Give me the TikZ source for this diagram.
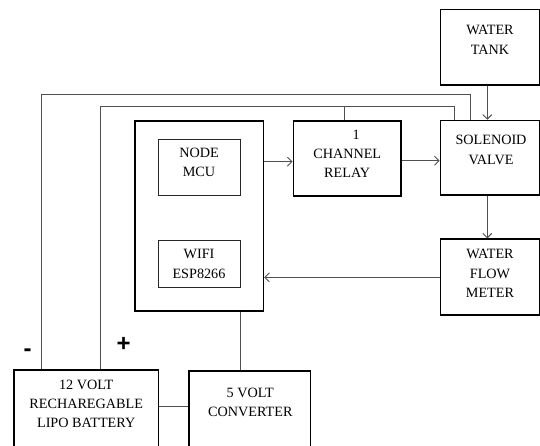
\documentclass[tikz,border=0pt]{standalone}
\usepackage{fontspec}
\setmainfont{Liberation Serif}
\newfontfamily\signfont{Liberation Sans}
\usetikzlibrary{arrows.meta}
\definecolor{wirec}{HTML}{505050}
\tikzset{
  bigbox/.style={draw=black, line width=1.7pt, inner sep=0pt, minimum width=#1},
  thinbox/.style={draw=black!85, line width=0.7pt, inner sep=0pt, minimum width=81.5pt},
  txt/.style={anchor=north, inner sep=0pt, align=center, font=\fontsize{14.2}{19.3}\selectfont, text=black},
  wire/.style={draw=wirec, line width=0.75pt},
  arr/.style={wire, -{Straight Barb[length=4.5pt,width=9pt,line width=0.9pt]}},
  sign/.style={inner sep=0pt, font=\signfont\bfseries\fontsize{24}{24}\selectfont}
}
\begin{document}
\begin{tikzpicture}[x=1pt,y=-1pt]
\useasboundingbox (0,0) rectangle (540,445);
\clip (0,0) rectangle (540,445);
\fill[white] (0,0) rectangle (540,445);
% boxes
\node[bigbox=99pt, minimum height=75.7pt] (tank) at (490,47.2) {};
\node[bigbox=99pt, minimum height=74.5pt] (sol) at (490,157.8) {};
\node[bigbox=107.7pt, minimum height=75.3pt] (relay) at (347.2,158.4) {};
\node[bigbox=128.3pt, minimum height=189.7pt] (mcu) at (199.2,215.9) {};
\node[thinbox, minimum height=56.4pt] (nmcu) at (199.3,167.5) {};
\node[thinbox, minimum height=47.5pt] (wifi) at (199.3,263.8) {};
\node[bigbox=99pt, minimum height=76pt] (flow) at (490,277.3) {};
\node[bigbox=144.3pt, minimum height=90pt] (bat) at (86.2,415) {};
\node[bigbox=121.2pt, minimum height=89pt] (conv) at (249.9,415.5) {};
% texts
\node[txt] (tankT) at (490,25.35) {WATER\\TANK};
\node[txt] (solT) at (491,135.35) {SOLENOID\\VALVE};
\node[txt] (relayT) at (347.2,129.65) {\hspace*{18pt}1\\CHANNEL\\RELAY};
\node[txt] (nmcuT) at (199,147.65) {NODE\\MCU};
\node[txt] (wifiT) at (199,249.35) {WIFI\\ESP8266};
\node[txt] (flowT) at (490,249.35) {WATER\\FLOW\\METER};
\node[txt] (batT) at (86.2,379.65) {12 VOLT\\RECHAREGABLE\\LIPO BATTERY};
\node[txt] (convT) at (250.3,387.65) {5 VOLT\\CONVERTER};
% signs
\node[sign] (minus) at (27.5,352.5) {-};
\node[sign] (plus) at (123.7,344) {+};
% power wires
\coordinate (mL) at (41.5,94.3);
\coordinate (mR) at (470,94.3);
\coordinate (pL) at (100.5,106.7);
\coordinate (pR) at (454,106.7);
\draw[wire] (bat.north -| mL) -- (mL) -- (mR) -- (sol.north -| mR);
\draw[wire] (bat.north -| pL) -- (pL) -- (pR) -- (sol.north -| pR);
\draw[wire] ([xshift=-2.9pt]relay.north) -- ([xshift=-2.9pt]relay.north |- pL);
% signal arrows
\coordinate (a1) at ([yshift=-3.3pt]relay.west);
\draw[arr] (a1 -| mcu.east) -- (a1);
\coordinate (a2) at ([yshift=-2.3pt]relay.east);
\draw[arr] (a2) -- (a2 -| sol.west);
\draw[arr] ([xshift=-2.7pt]tank.south) -- ([xshift=-2.7pt]sol.north);
\draw[arr] ([xshift=-2.7pt]sol.south) -- ([xshift=-2.7pt]flow.north);
\draw[arr] (flow.west) -- (flow.west -| mcu.east);
% supply lines
\draw[wire] (mcu.south -| wifi.east) -- (conv.north -| wifi.east);
\coordinate (bc) at (0,406.7);
\draw[wire] (bat.east |- bc) -- (conv.west |- bc);
\end{tikzpicture}
\end{document}
